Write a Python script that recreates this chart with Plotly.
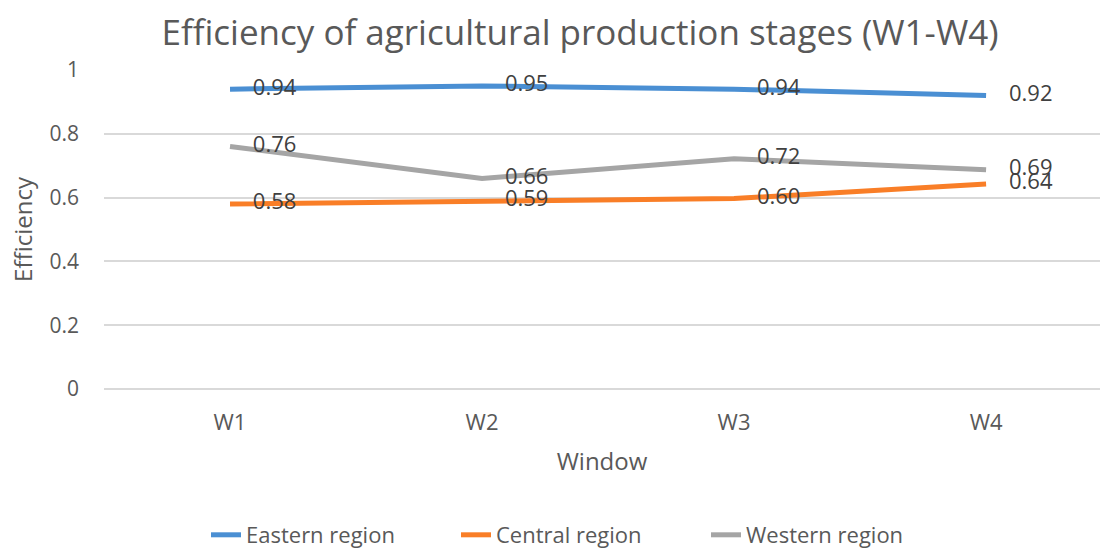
import plotly.graph_objects as go

windows = ["W1", "W2", "W3", "W4"]
eastern = [0.94, 0.95, 0.94, 0.92]
central = [0.58, 0.59, 0.597, 0.643]
western = [0.76, 0.66, 0.722, 0.687]

series = [
    ("Eastern region", eastern, "#4A8FD3"),
    ("Central region", central, "#F97E27"),
    ("Western region", western, "#A5A5A5"),
]

FONT = "Open Sans, Liberation Sans, sans-serif"
GREY = "#595959"
PAD = "\u00a0\u00a0\u00a0\u00a0"

fig = go.Figure()
for name, vals, color in series:
    fig.add_trace(go.Scatter(
        x=windows, y=vals, name=name, mode="lines+text",
        line=dict(color=color, width=5),
        texttemplate=PAD + "%{y:.2f}", textposition="middle right",
        textfont=dict(size=22, color="#404040", family=FONT),
        cliponaxis=False,
    ))

fig.update_layout(
    width=1100, height=550,
    paper_bgcolor="white", plot_bgcolor="white",
    margin=dict(l=104, r=0, t=70, b=161),
    font=dict(family=FONT, color=GREY, size=18),
    title=dict(text="Efficiency of agricultural production stages (W1-W4)",
               x=580 / 1100, xanchor="center", y=1 - 33 / 550, yanchor="middle",
               font=dict(size=35, color=GREY, family=FONT)),
    showlegend=True,
    legend=dict(orientation="h", xref="container", x=581 / 1100, xanchor="center",
                yref="container", y=15 / 550, yanchor="middle",
                font=dict(size=22, color=GREY, family=FONT),
                entrywidth=205, entrywidthmode="pixels", traceorder="normal"),
)
fig.update_xaxes(
    type="category", range=[-0.5, 3.452], showgrid=False, zeroline=False,
    showline=False, ticks="", ticklabelstandoff=18,
    tickfont=dict(size=22, color=GREY),
    title=dict(text="Window", standoff=18, font=dict(size=24, color=GREY)),
)
fig.update_yaxes(
    range=[0, 1.0], tickvals=[0, 0.2, 0.4, 0.6, 0.8, 1.0],
    ticktext=["0", "0.2", "0.4", "0.6", "0.8", "1"],
    showgrid=True, gridcolor="#D9D9D9", gridwidth=1.5, zeroline=True,
    zerolinecolor="#D9D9D9", zerolinewidth=1.5, showline=False, ticks="",
    ticklabelstandoff=24, tickfont=dict(size=21, color=GREY),
    title=dict(text="Efficiency", standoff=10, font=dict(size=24, color=GREY)),
)

fig.write_html("out.html")
